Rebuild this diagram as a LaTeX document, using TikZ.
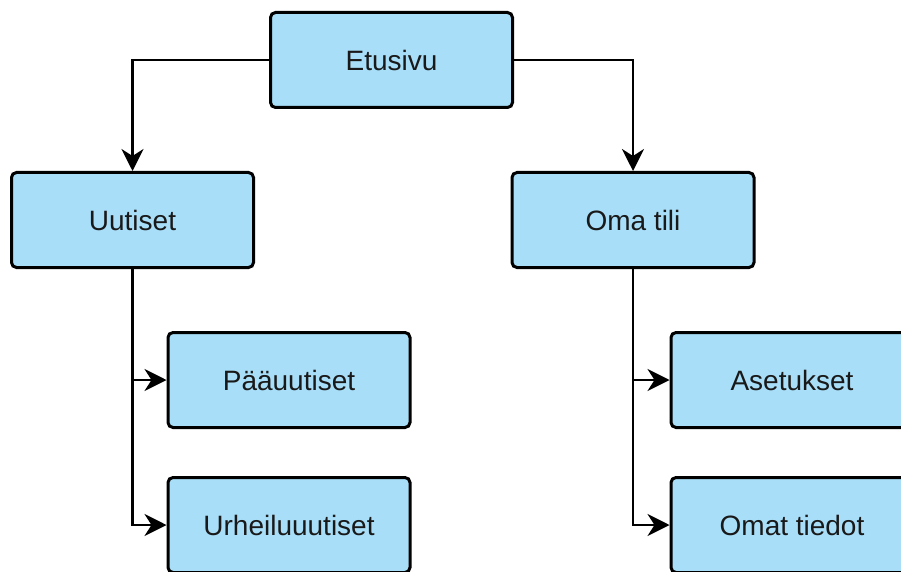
\documentclass[tikz,border=0pt]{standalone}
\usepackage{fontspec}
\setmainfont{Liberation Sans}
\usetikzlibrary{arrows.meta}
\definecolor{boxfill}{RGB}{168,222,248}
\tikzset{
  box/.style={draw=black, line width=3pt, rounded corners=5pt, fill=boxfill,
    minimum width=242pt, minimum height=95pt, inner sep=0pt,
    font=\fontsize{28}{33}\selectfont, text=black!90},
  conn/.style={draw=black, line width=2.2pt, -{Stealth[length=22pt,width=22pt,inset=7pt]}}
}
\begin{document}
\begin{tikzpicture}[x=1pt,y=-1pt]
\useasboundingbox (0,0) rectangle (901,572);
\clip (0,0) rectangle (901,572);
\node[box] (etusivu) at (391.5,60) {Etusivu};
\node[box] (uutiset) at (132.5,220) {Uutiset};
\node[box] (omatili) at (633,220) {Oma tili};
\node[box] (paa) at (289,380) {Pääuutiset};
\node[box] (urh) at (289,525) {Urheiluuutiset};
\node[box] (aset) at (792,380) {Asetukset};
\node[box] (omat) at (792,525) {Omat tiedot};
\draw[conn] (etusivu.west) -| (uutiset.north);
\draw[conn] (etusivu.east) -| (omatili.north);
\draw[conn] (uutiset.south) |- (paa.west);
\draw[conn] (uutiset.south) |- (urh.west);
\draw[conn] (omatili.south) |- (aset.west);
\draw[conn] (omatili.south) |- (omat.west);
\end{tikzpicture}
\end{document}
